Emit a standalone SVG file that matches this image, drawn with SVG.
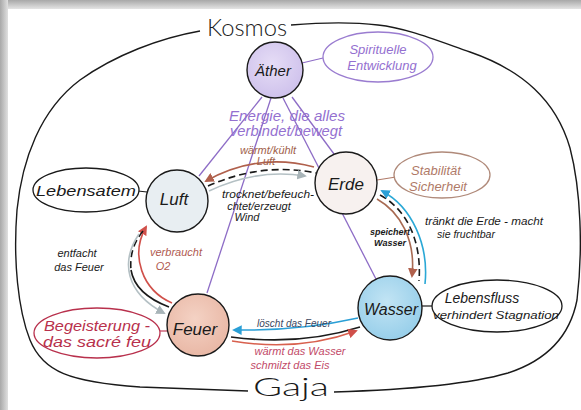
<svg xmlns="http://www.w3.org/2000/svg" width="581" height="410" viewBox="0 0 581 410">
<defs>
<linearGradient id="gTop" x1="0" y1="0" x2="0" y2="1"><stop offset="0" stop-color="#a8a8a8"/><stop offset="1" stop-color="#e4e4e4"/></linearGradient>
<linearGradient id="gLeft" x1="0" y1="0" x2="1" y2="0"><stop offset="0" stop-color="#a8a8a8"/><stop offset="1" stop-color="#e0e0e0"/></linearGradient>
<radialGradient id="fAether" cx="0.45" cy="0.4" r="0.6"><stop offset="0" stop-color="#e6ddf6"/><stop offset="1" stop-color="#cfc2ec"/></radialGradient>
<radialGradient id="fWasser" cx="0.45" cy="0.4" r="0.6"><stop offset="0" stop-color="#c2e4f4"/><stop offset="1" stop-color="#98cfea"/></radialGradient>
<radialGradient id="fFeuer" cx="0.45" cy="0.4" r="0.6"><stop offset="0" stop-color="#f4d2c4"/><stop offset="1" stop-color="#e9b8a6"/></radialGradient>
<marker id="aBrown" viewBox="0 0 10 10" refX="8" refY="5" markerWidth="6" markerHeight="6" orient="auto"><path d="M0,0 L10,5 L0,10 z" fill="#b0604c"/></marker>
<marker id="aRed" viewBox="0 0 10 10" refX="8" refY="5" markerWidth="6" markerHeight="6" orient="auto"><path d="M0,0 L10,5 L0,10 z" fill="#d0504a"/></marker>
<marker id="aBlue" viewBox="0 0 10 10" refX="8" refY="5" markerWidth="6" markerHeight="6" orient="auto"><path d="M0,0 L10,5 L0,10 z" fill="#2a9fd6"/></marker>
<marker id="aGray" viewBox="0 0 10 10" refX="8" refY="5" markerWidth="6" markerHeight="6" orient="auto"><path d="M0,0 L10,5 L0,10 z" fill="#a8b4b8"/></marker>
<style>
text{font-family:"Liberation Sans","DejaVu Sans",sans-serif;font-style:italic;text-anchor:middle}
.title{font-family:Lato,"Open Sans","Liberation Sans",sans-serif;font-style:normal;font-weight:300;fill:#1a1a1a}
.node{stroke:#1a1a1a;stroke-width:1.4}
.nl{font-size:17px;fill:#1a1a1a}
.outer{fill:none;stroke:#1a1a1a;stroke-width:1.4}
.purple{stroke:#8d6cc6;stroke-width:1.3;fill:none}
.link{fill:none;stroke-width:1.2}
.arc{fill:none;stroke-width:1.6}
.dash{stroke-dasharray:7 4}
</style>
</defs>
<rect x="0" y="0" width="581" height="410" fill="#ffffff"/>
<rect x="0" y="0" width="581" height="9" fill="url(#gTop)"/>
<rect x="0" y="0" width="8" height="410" fill="url(#gLeft)"/>

<g id="frame">
<path class="outer" d="M 200,31 C 160,38 115,55 80,80 C 40,110 22,160 17,210 C 13,260 18,310 30,340 C 43,372 70,382 140,387 L 248,391"/>
<path class="outer" d="M 334,392 C 400,390 470,384 508,373 C 548,360 570,336 577,300 C 583,250 581,190 570,148 C 556,100 522,70 470,52 C 430,38 405,28 378,25 C 345,21 315,23 291,25"/>
<text class="title" x="247" y="36" style="font-size:24px" textLength="80" lengthAdjust="spacingAndGlyphs">Kosmos</text>
<text class="title" x="291" y="396" style="font-size:25px" textLength="76" lengthAdjust="spacingAndGlyphs">Gaja</text>
</g>

<g id="connectors">
<path class="purple" d="M 262,97 L 199,176"/>
<path class="purple" d="M 271,98 L 207,293"/>
<path class="purple" d="M 292,97 L 334,154"/>
<path class="purple" d="M 283,98 L 377,281"/>
<path class="link" stroke="#8d6cc6" d="M 302,63 L 323,58"/>
<path class="link" stroke="#b07a68" d="M 377,180 L 396,177"/>
<path class="link" stroke="#1a1a1a" d="M 138,191 L 147,192"/>
<path class="link" stroke="#1a1a1a" d="M 422,306 L 433,306"/>
<path class="link" stroke="#c0405a" d="M 160,331 L 167,331"/>

<path class="arc" stroke="#b0604c" marker-end="url(#aBrown)" d="M 314,167 Q 258,152 206,181"/>
<path class="arc dash" stroke="#1a1a1a" d="M 208,186 Q 262,162 316,173"/>
<path class="arc" stroke="#b4c0c4" marker-end="url(#aGray)" d="M 209,191 Q 258,168 305,176"/>

<path class="arc" stroke="#d0504a" marker-end="url(#aRed)" d="M 172,303 C 142,290 130,255 146,227"/>
<path class="arc dash" stroke="#1a1a1a" d="M 143,231 Q 129,248 131,270"/>
<path class="arc" stroke="#1a1a1a" d="M 131,270 Q 135,294 169,307"/>
<path class="arc" stroke="#b4c0c4" marker-end="url(#aGray)" d="M 139,234 C 120,262 126,293 164,313"/>

<path class="arc" stroke="#a86a52" marker-end="url(#aBrown)" d="M 377,199 C 400,212 416,240 412,276"/>
<path class="arc dash" stroke="#1a1a1a" d="M 380,195 C 406,209 422,240 419,281"/>
<path class="arc" stroke="#2aa8d6" marker-end="url(#aBlue)" d="M 425,284 C 429,245 412,207 382,191"/>

<path class="arc" stroke="#2a9fd6" marker-end="url(#aBlue)" d="M 358,318 Q 300,331 234,330"/>
<path class="arc" stroke="#1a1a1a" d="M 231,337 Q 300,346 360,327"/>
<path class="arc" stroke="#d8604e" marker-end="url(#aRed)" d="M 232,341 Q 298,352 356,331"/>

<text x="287" y="121" style="font-size:14px;fill:#9470d0" textLength="116" lengthAdjust="spacingAndGlyphs">Energie, die alles</text>
<text x="286" y="136" style="font-size:14px;fill:#9470d0" textLength="112" lengthAdjust="spacingAndGlyphs">verbindet/bewegt</text>
<text x="268" y="154" style="font-size:11px;fill:#a0604a">wärmt/kühlt</text>
<text x="266" y="165" style="font-size:11px;fill:#a0604a">Luft</text>
<text x="268" y="198" style="font-size:11px;fill:#1a1a1a" textLength="92" lengthAdjust="spacingAndGlyphs">trocknet/befeuch-</text>
<text x="259" y="210" style="font-size:11px;fill:#1a1a1a">chtet/erzeugt</text>
<text x="247" y="221" style="font-size:11px;fill:#1a1a1a">Wind</text>
<text x="176" y="256" style="font-size:11px;fill:#b05a50">verbraucht</text>
<text x="163" y="270" style="font-size:11px;fill:#b05a50">O2</text>
<text x="77" y="257" style="font-size:11px;fill:#1a1a1a">entfacht</text>
<text x="79" y="271" style="font-size:11px;fill:#1a1a1a">das Feuer</text>
<text x="390" y="235" style="font-size:9px;font-weight:bold;fill:#1a1a1a">speichert</text>
<text x="390" y="246" style="font-size:9px;font-weight:bold;fill:#1a1a1a">Wasser</text>
<text x="484" y="225" style="font-size:10.5px;fill:#1a1a1a" textLength="118" lengthAdjust="spacingAndGlyphs">tränkt die Erde - macht</text>
<text x="466" y="238" style="font-size:10.5px;fill:#1a1a1a">sie fruchtbar</text>
<text x="294" y="327" style="font-size:10px;fill:#3a4660">löscht das Feuer</text>
<text x="300" y="355" style="font-size:11px;fill:#c24a68">wärmt das Wasser</text>
<text x="290" y="369" style="font-size:11px;fill:#c24a68">schmilzt das Eis</text>
</g>

<g id="spirituelle">
<ellipse cx="378" cy="57" rx="55" ry="25" fill="#ffffff" stroke="#9a7cd0" stroke-width="1.3"/>
<text x="378" y="54" style="font-size:13px;fill:#9470d0">Spirituelle</text>
<text x="382" y="70" style="font-size:13px;fill:#9470d0">Entwicklung</text>
</g>
<g id="stabilitaet">
<ellipse cx="442" cy="175" rx="48" ry="23" fill="#ffffff" stroke="#b08a7a" stroke-width="1.3"/>
<text x="436" y="175" style="font-size:13px;fill:#b07a68">Stabilität</text>
<text x="438" y="191" style="font-size:13px;fill:#b07a68">Sicherheit</text>
</g>
<g id="lebensatem">
<ellipse cx="86" cy="190" rx="53" ry="22" fill="#ffffff" stroke="#1a1a1a" stroke-width="1.3"/>
<text x="86" y="196" style="font-size:15px;fill:#1a1a1a" textLength="100" lengthAdjust="spacingAndGlyphs">Lebensatem</text>
</g>
<g id="lebensfluss">
<ellipse cx="497" cy="306" rx="65" ry="26" fill="#ffffff" stroke="#1a1a1a" stroke-width="1.3"/>
<text x="482" y="303" style="font-size:14px;fill:#1a1a1a">Lebensfluss</text>
<text x="496" y="319" style="font-size:11.5px;fill:#1a1a1a" textLength="126" lengthAdjust="spacingAndGlyphs">verhindert Stagnation</text>
</g>
<g id="begeisterung">
<ellipse cx="97" cy="333" rx="63" ry="25" fill="#ffffff" stroke="#b8304c" stroke-width="1.3"/>
<text x="97" y="331" style="font-size:15px;fill:#b8304c" textLength="106" lengthAdjust="spacingAndGlyphs">Begeisterung -</text>
<text x="97" y="347" style="font-size:15px;fill:#b8304c" textLength="108" lengthAdjust="spacingAndGlyphs">das sacré feu</text>
</g>

<g id="aether">
<circle cx="275" cy="70" r="28" fill="url(#fAether)" class="node"/>
<text x="273" y="76" class="nl" style="font-size:15px">Äther</text>
</g>
<g id="luft">
<circle cx="177" cy="201" r="31" fill="#e8eef2" class="node"/>
<text x="174" y="205" class="nl">Luft</text>
</g>
<g id="erde">
<circle cx="346" cy="183" r="31" fill="#f7f1ef" class="node"/>
<text x="346" y="190" class="nl">Erde</text>
</g>
<g id="wasser">
<circle cx="390" cy="308" r="32" fill="url(#fWasser)" class="node"/>
<text x="391" y="315" class="nl" style="font-size:16px">Wasser</text>
</g>
<g id="feuer">
<circle cx="198" cy="325" r="31" fill="url(#fFeuer)" class="node"/>
<text x="195" y="335" class="nl">Feuer</text>
</g>
</svg>
